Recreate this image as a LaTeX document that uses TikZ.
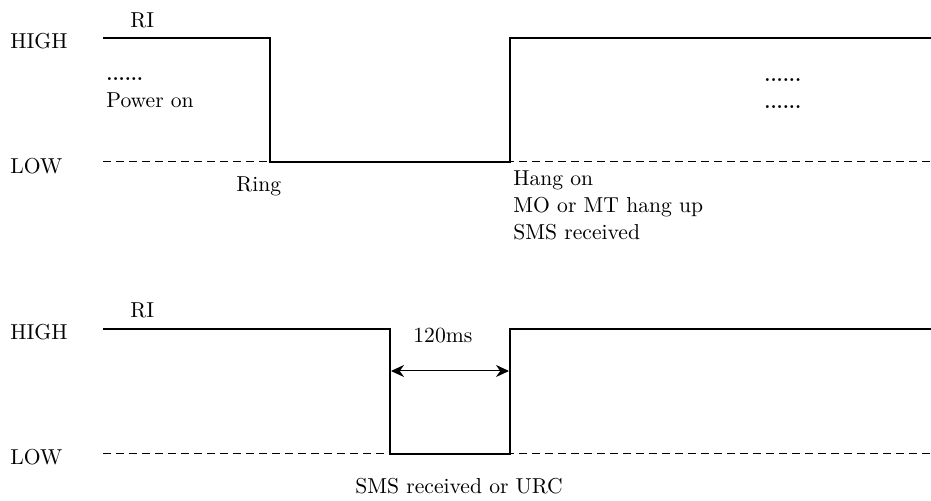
\documentclass[tikz,border=0pt]{standalone}
\usetikzlibrary{arrows.meta}

\begin{document}
\begin{tikzpicture}[x=0.5pt,y=-0.5pt,
    lbl/.style={inner sep=0pt,anchor=base west,font=\fontsize{10.8}{13}\selectfont},
    dots/.style={lbl,font=\bfseries\fontsize{9.3}{13}\selectfont},
    sig/.style={line width=1.3pt,line join=miter},
    lvl/.style={line width=0.5pt,dash pattern=on 4pt off 2.5pt}]
    \useasboundingbox (0,0) rectangle (931,501);
    % upper chart: ring
    \node[lbl] (high1) at (10,49) {HIGH};
    \node[lbl] (ri1) at (130,28) {RI};
    \node[lbl] (low1) at (10,174) {LOW};
    \node[dots] (dots1) at (106,81) {......};
    \node[lbl] (power) at (106,108) {Power on};
    \node[lbl] (ring) at (236,192) {Ring};
    \node[lbl] (hang1) at (513,186) {Hang on};
    \node[lbl] (hang2) at (513,213) {MO or MT hang up};
    \node[lbl] (hang3) at (513,240) {SMS received};
    \node[dots] (dots2) at (764,82) {......};
    \node[dots] (dots3) at (764,109) {......};
    \coordinate (l1s) at (103,162);
    \coordinate (l1e) at (931,162);
    \coordinate (a0) at (103,38);
    \coordinate (a1) at (270,38);
    \coordinate (a2) at (270,162);
    \coordinate (a3) at (510,162);
    \coordinate (a4) at (510,38);
    \coordinate (a5) at (931,38);
    \draw[lvl] (l1s)--(l1e);
    \draw[sig] (a0)--(a1)--(a2)--(a3)--(a4)--(a5);
    % lower chart: sms / urc pulse
    \node[lbl] (high2) at (10,340) {HIGH};
    \node[lbl] (ri2) at (130,318) {RI};
    \node[lbl] (low2) at (10,465) {LOW};
    \node[lbl] (pulse) at (413,343) {120ms};
    \node[lbl] (sms) at (355,494) {SMS received or URC};
    \coordinate (l2s) at (103,454);
    \coordinate (l2e) at (931,454);
    \coordinate (b0) at (103,329);
    \coordinate (b1) at (390,329);
    \coordinate (b2) at (390,454);
    \coordinate (b3) at (510,454);
    \coordinate (b4) at (510,329);
    \coordinate (b5) at (931,329);
    \coordinate (w1) at (391,371);
    \coordinate (w2) at (509,371);
    \draw[lvl] (l2s)--(l2e);
    \draw[sig] (b0)--(b1)--(b2)--(b3)--(b4)--(b5);
    \draw[{Stealth[length=6.5pt,width=6pt]}-{Stealth[length=6.5pt,width=6pt]},line width=0.5pt] (w1)--(w2);
  \end{tikzpicture}
\end{document}
